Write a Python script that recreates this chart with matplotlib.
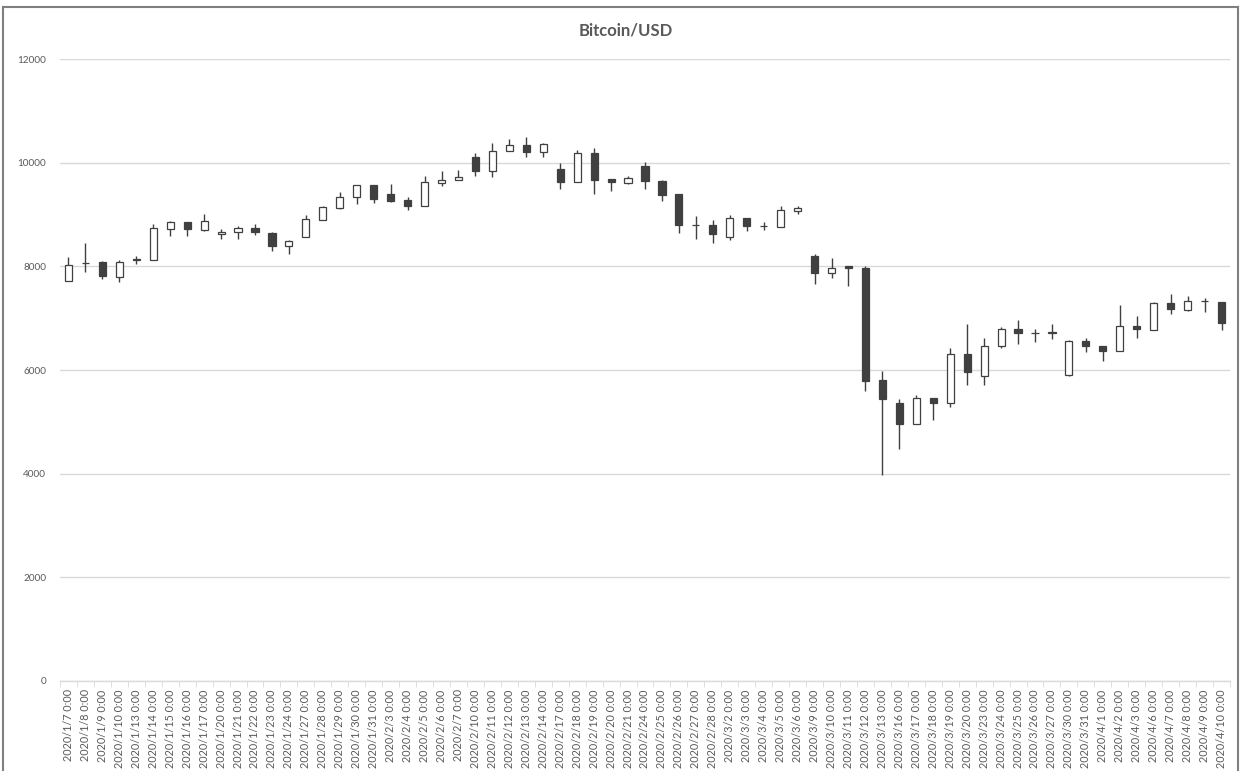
import matplotlib
matplotlib.use("Agg")
import matplotlib.pyplot as plt
from matplotlib.lines import Line2D
import numpy as np

plt.rcParams['font.family'] = ['Lato', 'DejaVu Sans']

# trading days
dates = ["1/7", "1/8", "1/9", "1/10", "1/13", "1/14", "1/15", "1/16", "1/17", "1/20",
         "1/21", "1/22", "1/23", "1/24", "1/27", "1/28", "1/29", "1/30", "1/31", "2/3",
         "2/4", "2/5", "2/6", "2/7", "2/10", "2/11", "2/12", "2/13", "2/14", "2/17",
         "2/18", "2/19", "2/20", "2/21", "2/24", "2/25", "2/26", "2/27", "2/28", "3/2",
         "3/3", "3/4", "3/5", "3/6", "3/9", "3/10", "3/11", "3/12", "3/13", "3/16",
         "3/17", "3/18", "3/19", "3/20", "3/23", "3/24", "3/25", "3/26", "3/27", "3/30",
         "3/31", "4/1", "4/2", "4/3", "4/6", "4/7", "4/8", "4/9", "4/10"]
tick_labels = ["2020/" + d + " 0:00" for d in dates]

opens = [7717, 8058, 8077, 7800, 8150, 8116, 8727, 8855, 8707, 8624,
         8656, 8733, 8641, 8397, 8564, 8897, 9128, 9333, 9571, 9397,
         9282, 9173, 9615, 9667, 10115, 9833, 10218, 10346, 10212, 9878,
         9622, 10180, 9686, 9603, 9929, 9641, 9397, 8800, 8795, 8564,
         8930, 8782, 8757, 9064, 8192, 7878, 8000, 7974, 5808, 5359,
         4955, 5455, 5372, 6301, 5885, 6468, 6788, 6718, 6725, 5904,
         6558, 6468, 6372, 6853, 6763, 7301, 7167, 7340, 7320]
highs = [8180, 8450, 8096, 8115, 8190, 8823, 8875, 8860, 9003, 8720,
         8778, 8810, 8660, 8500, 8981, 9173, 9430, 9571, 9571, 9590,
         9346, 9750, 9846, 9859, 10180, 10372, 10455, 10487, 10372, 9987,
         10244, 10282, 9686, 9750, 10006, 9667, 9397, 8962, 8897, 8981,
         8930, 8853, 9167, 9167, 8244, 8167, 8000, 8000, 5987, 5442,
         5513, 5455, 6417, 6897, 6609, 6833, 6974, 6782, 6878, 6577,
         6622, 6468, 7250, 7038, 7314, 7461, 7423, 7391, 7320]
lows = [7717, 7890, 7762, 7700, 8050, 8116, 8579, 8585, 8675, 8520,
        8520, 8598, 8295, 8231, 8564, 8897, 9109, 9205, 9218, 9237,
        9090, 9160, 9551, 9667, 9750, 9718, 10218, 10103, 10103, 9494,
        9622, 9397, 9462, 9590, 9494, 9256, 8641, 8532, 8449, 8513,
        8680, 8705, 8757, 9013, 7667, 7776, 7615, 5596, 3981, 4474,
        4955, 5038, 5282, 5712, 5712, 6417, 6494, 6545, 6596, 5885,
        6353, 6173, 6372, 6622, 6763, 7090, 7141, 7122, 6769]
closes = [8032, 8070, 7807, 8077, 8130, 8746, 8855, 8727, 8868, 8669,
          8733, 8662, 8385, 8481, 8904, 9154, 9333, 9571, 9301, 9269,
          9173, 9622, 9667, 9718, 9833, 10218, 10346, 10212, 10359, 9622,
          10180, 9667, 9622, 9705, 9641, 9385, 8795, 8790, 8615, 8936,
          8782, 8770, 9090, 9128, 7878, 7974, 7974, 5789, 5436, 4955,
          5468, 5359, 6301, 5968, 6468, 6789, 6705, 6712, 6705, 6558,
          6462, 6372, 6846, 6782, 7301, 7173, 7333, 7325, 6910]

o = np.array(opens, dtype=float)
h = np.array(highs, dtype=float)
l = np.array(lows, dtype=float)
c = np.array(closes, dtype=float)
x = np.arange(len(dates))

edge = '#404040'
grid = '#d9d9d9'
txt = '#595959'

fig = plt.figure(figsize=(12.42, 7.71), dpi=100, facecolor='white')
ax = fig.add_axes([60 / 1242, 1 - 681 / 771, 1170 / 1242, 622 / 771])

# wicks first, bodies on top
ax.vlines(x, l, h, color=edge, linewidth=1.0, zorder=2)
fill = np.where(c >= o, 'white', edge)
body = np.maximum(np.abs(c - o), 8)
ax.bar(x, body, bottom=np.minimum(o, c), width=0.42, color=fill,
       edgecolor=edge, linewidth=0.9, zorder=3)

ax.set_xlim(-0.5, len(dates) - 0.5)
ax.set_ylim(0, 12000)
ax.set_yticks(range(0, 12001, 2000))
ax.yaxis.grid(True, color=grid, linewidth=1.0)
ax.set_axisbelow(True)
ax.tick_params(axis='y', length=0, labelsize=7.2, labelcolor=txt, pad=10)

ax.set_xticks(x)
ax.set_xticklabels(tick_labels, rotation=90, fontsize=7.8, color=txt)
ax.set_xticks(np.arange(-0.5, len(dates)), minor=True)
ax.tick_params(axis='x', which='major', length=0, pad=6)
ax.tick_params(axis='x', which='minor', length=4, color=grid)

for s in ['top', 'right', 'left']:
    ax.spines[s].set_visible(False)
ax.spines['bottom'].set_color(grid)
ax.spines['bottom'].set_linewidth(1.0)

fig.text(626 / 1242, 1 - 30 / 771, 'Bitcoin/USD', ha='center', va='center',
         fontsize=12, fontweight='bold', color=txt)

# chart border (bottom edge falls outside the image)
bx0, bx1, by1 = 3 / 1242, 1238 / 1242, 1 - 7 / 771
for xs, ys in [([bx0, bx1], [by1, by1]), ([bx0, bx0], [by1, -0.01]), ([bx1, bx1], [by1, -0.01])]:
    fig.add_artist(Line2D(xs, ys, color='#7f7f7f', linewidth=1.5))

fig.savefig('out.png', dpi=100, facecolor='white')
